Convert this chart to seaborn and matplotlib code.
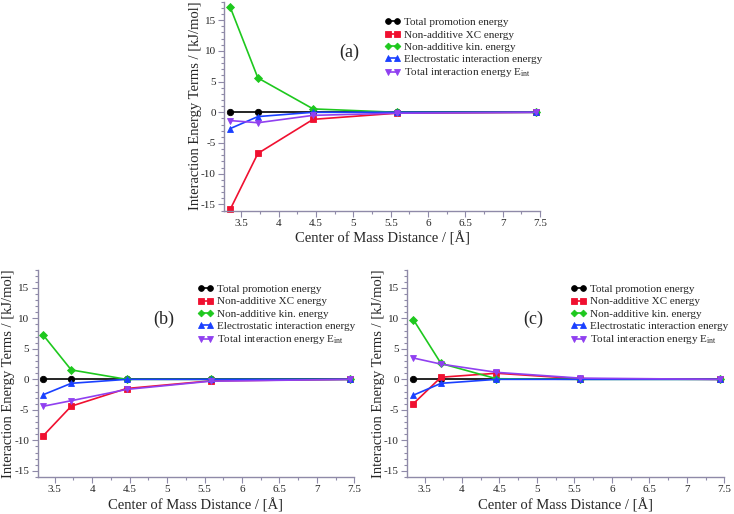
import matplotlib
matplotlib.use("Agg")
import matplotlib.pyplot as plt
from matplotlib.ticker import AutoMinorLocator
import seaborn as sns
import pandas as pd

distance = [3.35, 3.72, 4.46, 5.58, 7.44]

series_names = ["Total promotion energy", "Non-additive XC energy",
                "Non-additive kin. energy", "Electrostatic interaction energy",
                r"Total interaction energy E$_{\mathrm{int}}$"]

# panel (a)
a_prom = [0.0, 0.0, 0.0, 0.0, 0.0]
a_xc = [-15.8, -6.7, -1.15, -0.15, 0.0]
a_kin = [17.1, 5.6, 0.55, 0.0, 0.0]
a_elec = [-2.65, -0.7, 0.0, 0.0, 0.0]
a_tot = [-1.35, -1.7, -0.5, -0.15, 0.0]

# panel (b)
b_prom = [0.0, 0.0, 0.0, 0.0, 0.0]
b_xc = [-9.2, -4.4, -1.5, -0.25, 0.0]
b_kin = [7.2, 1.55, 0.0, 0.0, 0.0]
b_elec = [-2.5, -0.65, 0.0, 0.0, 0.0]
b_tot = [-4.4, -3.5, -1.65, -0.3, 0.0]

# panel (c)
c_prom = [0.0, 0.0, 0.0, 0.0, 0.0]
c_xc = [-4.0, 0.35, 1.0, 0.1, 0.0]
c_kin = [9.8, 2.6, 0.1, 0.0, 0.0]
c_elec = [-2.6, -0.65, 0.0, 0.0, 0.0]
c_tot = [3.5, 2.5, 1.15, 0.2, 0.0]

panel_labels = ["(a)", "(b)", "(c)"]
x_ticks = [3.5, 4, 4.5, 5, 5.5, 6, 6.5, 7, 7.5]
x_tick_labels = ["3.5", "4", "4.5", "5", "5.5", "6", "6.5", "7", "7.5"]
y_ticks = [-15, -10, -5, 0, 5, 10, 15]
y_tick_labels = ["-15", "-10", "-5", "0", "5", "10", "15"]

colors = ["#000000", "#f01030", "#1ec81e", "#1a40ff", "#9040f0"]
markers = ["o", "s", "D", "^", "v"]
msizes = [4.6, 4.3, 3.8, 4.8, 4.8]

sns.set_style("white")
plt.rcParams["font.family"] = ["Liberation Serif", "DejaVu Serif"]
plt.rcParams["mathtext.fontset"] = "custom"
plt.rcParams["mathtext.rm"] = "Liberation Serif"
plt.rcParams["mathtext.it"] = "Liberation Serif:italic"

W, H = 734, 514
fig = plt.figure(figsize=(W / 100, H / 100), dpi=100)

def px_rect(l, t, r, b):
    return [l / W, 1 - b / H, (r - l) / W, (b - t) / H]

rects = [px_rect(224.3, 1.8, 540.0, 210.5),
         px_rect(37.5, 269.5, 354.3, 477.0),
         px_rect(407.3, 269.5, 724.3, 477.0)]
legend_anchor = [(385, 17.5), (198, 284.5), (571, 284.5)]

panels = [[a_prom, a_xc, a_kin, a_elec, a_tot],
          [b_prom, b_xc, b_kin, b_elec, b_tot],
          [c_prom, c_xc, c_kin, c_elec, c_tot]]

spine_col = "#8f8aa8"

for rect, data, lab, anc in zip(rects, panels, panel_labels, legend_anchor):
    ax = fig.add_axes(rect)
    for name, vals, col, mk, ms in zip(series_names, data, colors, markers, msizes):
        df = pd.DataFrame({"x": distance, "y": vals})
        sns.lineplot(data=df, x="x", y="y", ax=ax, color=col, marker=mk,
                     markersize=ms, markeredgewidth=0.6, markeredgecolor=col,
                     linewidth=1.2, label=name, clip_on=False)
    ax.set_xlim(3.27, 7.5)
    ax.set_ylim(-16, 18)
    ax.set_xticks(x_ticks)
    ax.set_xticklabels(x_tick_labels)
    ax.set_yticks(y_ticks)
    ax.set_yticklabels(y_tick_labels)
    ax.xaxis.set_minor_locator(AutoMinorLocator(2))
    ax.yaxis.set_minor_locator(AutoMinorLocator(5))
    ax.tick_params(axis="both", which="major", direction="out", length=4,
                   width=0.8, color=spine_col, labelsize=8, pad=2,
                   bottom=True, left=True)
    ax.tick_params(axis="both", which="minor", direction="out", length=2,
                   width=0.8, color=spine_col, bottom=True, left=True)
    for s in ["top", "right"]:
        ax.spines[s].set_visible(False)
    for s in ["left", "bottom"]:
        ax.spines[s].set_color(spine_col)
        ax.spines[s].set_linewidth(1.0)
    ax.set_xlabel("Center of Mass Distance / [Å]", fontsize=10.5, labelpad=2.5)
    ax.set_ylabel("Interaction Energy Terms / [kJ/mol]", fontsize=10.5)
    ax_w_px = rect[2] * W
    ax.yaxis.set_label_coords(-22 / ax_w_px, 0.5)
    ax.text(4.95, 9.8, lab, fontsize=13, ha="center", va="center")
    handles, labels = ax.get_legend_handles_labels()
    ax.legend(handles, labels, loc="upper left",
              bbox_to_anchor=(anc[0] / W, 1 - anc[1] / H),
              bbox_transform=fig.transFigure, frameon=False, fontsize=8,
              numpoints=2, handlelength=1.4, handletextpad=0.35,
              labelspacing=0.22, borderpad=0, borderaxespad=0,
              markerscale=0.9)

fig.savefig("out.png", dpi=100)
